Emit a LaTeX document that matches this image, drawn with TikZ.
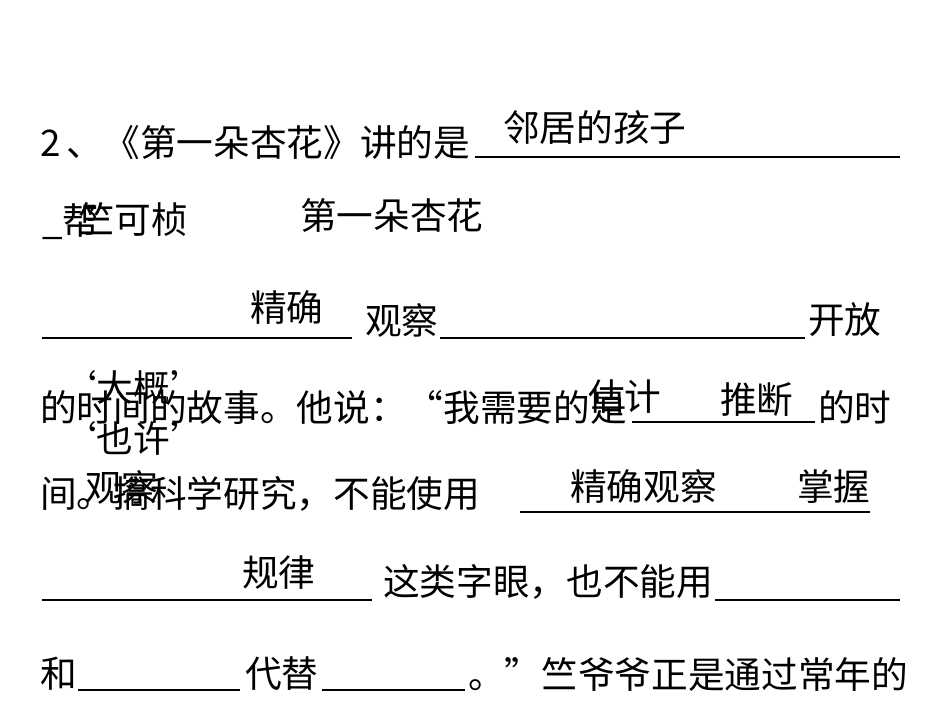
\documentclass[tikz,border=0pt]{standalone}
\usepackage{fontspec}
\setmainfont{Noto Sans CJK SC}
\begin{document}
\begin{tikzpicture}[x=0.75pt,y=-0.75pt,
  t/.style={anchor=west,inner sep=0pt,font=\fontsize{27.5}{27.5}\selectfont},
  ul/.style={line width=1.3pt}]
\useasboundingbox (0,0) rectangle (950,713);
\node[t] (l1) at (40,143) {2\,、《第一朵杏花》讲的是};
\coordinate (u1a) at (475,157); \coordinate (u1b) at (900,157);
\draw[ul] (u1a) -- (u1b);
\node[t] (a1) at (503,128) {邻居的孩子};
\node[t] (l2) at (42,222) {\_帮};
\node[t] (a2) at (78,220) {竺可桢};
\node[t] (a3) at (300,215) {第一朵杏花};
\coordinate (u2a) at (42,338); \coordinate (u2b) at (352,338);
\draw[ul] (u2a) -- (u2b);
\node[t] (a4) at (250,308) {精确};
\node[t] (l3a) at (365,320) {观察};
\coordinate (u3a) at (440,338); \coordinate (u3b) at (805,338);
\draw[ul] (u3a) -- (u3b);
\node[t] (l3b) at (808,320) {开放};
\node[t] (l4) at (40,407) {的时间的故事。他说：“我需要的是};
\coordinate (u4a) at (632,422); \coordinate (u4b) at (815,422);
\draw[ul] (u4a) -- (u4b);
\node[t] (l4b) at (818,407) {的时};
\node[t] (a5) at (60,387) {‘大概’};
\node[t] (a6) at (60,438) {‘也许’};
\node[t] (a7) at (588,397) {估计};
\node[t] (a8) at (720,400) {推断};
\node[t] (l5) at (40,494) {间。搞科学研究，不能使用};
\coordinate (u5a) at (520,512); \coordinate (u5b) at (870,512);
\draw[ul] (u5a) -- (u5b);
\node[t] (a9) at (85,487) {观察};
\node[t] (a10) at (570,487) {精确观察};
\node[t] (a11) at (797,487) {掌握};
\coordinate (u6a) at (42,600); \coordinate (u6b) at (372,600);
\draw[ul] (u6a) -- (u6b);
\node[t] (a12) at (242,573) {规律};
\node[t] (l6) at (383,582) {这类字眼，也不能用};
\coordinate (u7a) at (715,600); \coordinate (u7b) at (900,600);
\draw[ul] (u7a) -- (u7b);
\node[t] (l7a) at (40,674) {和};
\coordinate (u8a) at (78,690); \coordinate (u8b) at (240,690);
\draw[ul] (u8a) -- (u8b);
\node[t] (l7b) at (245,674) {代替};
\coordinate (u9a) at (322,690); \coordinate (u9b) at (465,690);
\draw[ul] (u9a) -- (u9b);
\node[t] (l7c) at (468,674) {。”竺爷爷正是通过常年的};
\end{tikzpicture}
\end{document}
